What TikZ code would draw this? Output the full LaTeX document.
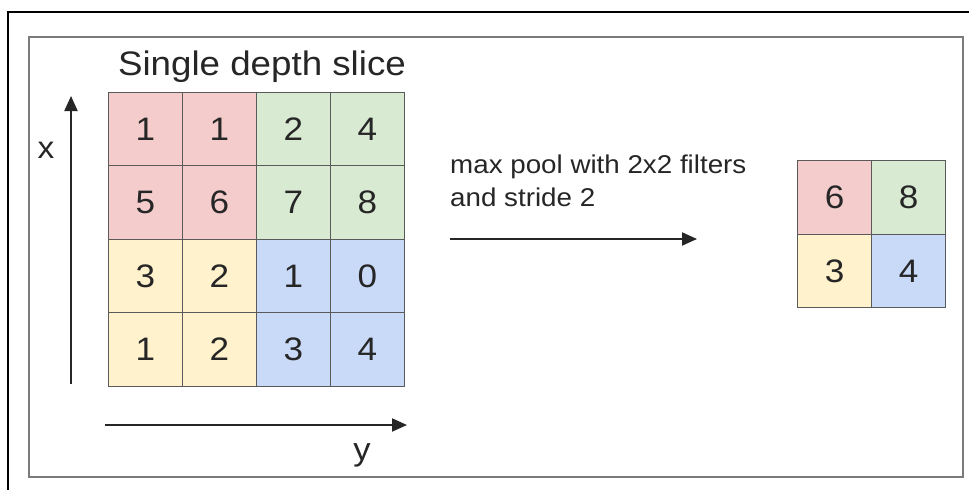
\documentclass[tikz,border=0pt]{standalone}
\usepackage{fontspec}
\setmainfont[FakeStretch=1.08]{Liberation Sans}
\usetikzlibrary{arrows.meta}
\definecolor{pinkc}{HTML}{F4CCCC}
\definecolor{greenc}{HTML}{D9EAD3}
\definecolor{yellowc}{HTML}{FFF2CC}
\definecolor{bluec}{HTML}{C9DAF8}
\definecolor{gridc}{HTML}{5A5A5A}
\definecolor{txtc}{HTML}{262626}
\definecolor{framec}{HTML}{7A7A7A}
\tikzset{
  cell/.style={draw=gridc, line width=1.4pt, minimum width=74pt, minimum height=73.5pt,
    inner sep=0pt, text=txtc, font=\fontsize{32.5}{36}\selectfont},
  axisarrow/.style={draw=txtc, line width=2pt, -{Triangle[length=15pt,width=13pt]}},
  lbl/.style={text=txtc, inner sep=0pt},
}
\begin{document}
\begin{tikzpicture}[x=1pt,y=-1pt]
\useasboundingbox (0,0) rectangle (969,490);
\fill[white] (0,0) rectangle (969,490);
% frames
\draw[black, line width=1.6pt] (969,12) -- (8,12) -- (8,490);
\draw[framec, line width=1.8pt] (29,37) rectangle (963,477);
% title
\node[lbl, anchor=base, font=\fontsize{34}{40}\selectfont] (title) at (262,75) {Single depth slice};
% input grid
\node[cell, fill=pinkc]   (a11) at (145.5,129)   {1};
\node[cell, fill=pinkc]   (a12) at (219.5,129)   {1};
\node[cell, fill=greenc]  (a13) at (293.5,129)   {2};
\node[cell, fill=greenc]  (a14) at (367.5,129)   {4};
\node[cell, fill=pinkc]   (a21) at (145.5,202.5) {5};
\node[cell, fill=pinkc]   (a22) at (219.5,202.5) {6};
\node[cell, fill=greenc]  (a23) at (293.5,202.5) {7};
\node[cell, fill=greenc]  (a24) at (367.5,202.5) {8};
\node[cell, fill=yellowc] (a31) at (145.5,276)   {3};
\node[cell, fill=yellowc] (a32) at (219.5,276)   {2};
\node[cell, fill=bluec]   (a33) at (293.5,276)   {1};
\node[cell, fill=bluec]   (a34) at (367.5,276)   {0};
\node[cell, fill=yellowc] (a41) at (145.5,349.5) {1};
\node[cell, fill=yellowc] (a42) at (219.5,349.5) {2};
\node[cell, fill=bluec]   (a43) at (293.5,349.5) {3};
\node[cell, fill=bluec]   (a44) at (367.5,349.5) {4};
% axes
\coordinate (xs) at (71,384);
\coordinate (xe) at (71,96);
\draw[axisarrow] (xs) -- (xe);
\node[lbl, anchor=base, font=\fontsize{31}{36}\selectfont] (xl) at (46,158) {x};
\coordinate (ys) at (105,425);
\coordinate (ye) at (407,425);
\draw[axisarrow] (ys) -- (ye);
\node[lbl, anchor=base, font=\fontsize{32}{36}\selectfont] (yl) at (362,460) {y};
% middle
\node[lbl, anchor=north west, align=left, font=\fontsize{25.7}{33.5}\selectfont] (op) at (450,154.5)
  {max pool with 2x2 filters\\and stride 2};
\coordinate (ms) at (450,239);
\coordinate (me) at (697,239);
\draw[axisarrow] (ms) -- (me);
% output grid
\node[cell, fill=pinkc]   (b11) at (834.5,197.5) {6};
\node[cell, fill=greenc]  (b12) at (908.5,197.5) {8};
\node[cell, fill=yellowc] (b21) at (834.5,271)   {3};
\node[cell, fill=bluec]   (b22) at (908.5,271)   {4};
\end{tikzpicture}
\end{document}
